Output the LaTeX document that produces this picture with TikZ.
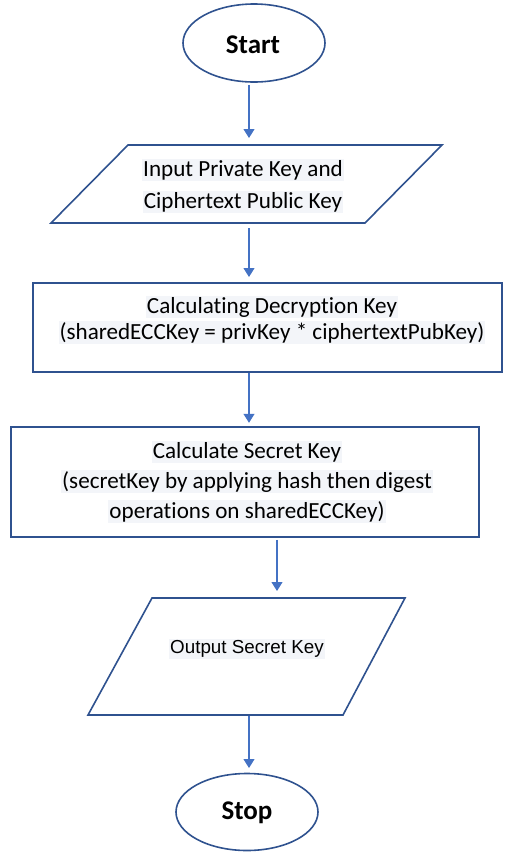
\documentclass[tikz,border=0pt]{standalone}
\usepackage{fontspec}
\setmainfont[Ligatures=NoCommon]{Carlito}
\newfontfamily\arialf{Liberation Sans}
\usetikzlibrary{arrows.meta,shapes.geometric}
\definecolor{outl}{HTML}{2F528F}
\definecolor{arr}{HTML}{4472C4}
\definecolor{hl}{HTML}{F3F5F9}
\newcommand{\hlb}[1]{{\setlength{\fboxsep}{1pt}\colorbox{hl}{#1}}}
\begin{document}
\begin{tikzpicture}[x=1pt,y=-1pt,
  shp/.style={draw=outl,line width=1.6pt,fill=white},
  term/.style={shp,ellipse,inner sep=0pt},
  box/.style={shp,rectangle,inner sep=0pt},
  txt/.style={align=center,inner sep=0pt},
  ttxt/.style={inner sep=0pt,font=\fontsize{27}{32}\selectfont\bfseries},
  flow/.style={draw=arr,line width=1.1pt,-{Triangle[width=11pt,length=9pt]}}]
\useasboundingbox (0,0) rectangle (504,852);
% Start
\node[term,minimum width=142pt,minimum height=78pt] (start) at (254,43) {};
\node[ttxt] (startt) at (253,45) {Start};
% Input
\draw[shp] (128,145) -- (442,145) -- (365,223) -- (51,223) -- cycle;
\coordinate (intop) at (249,138);
\coordinate (inbot) at (249,228);
\node[txt,font=\fontsize{23.1}{32}\selectfont] (inp) at (243,186) {\hlb{Input Private Key and}\\\hlb{Ciphertext Public Key}};
% Decryption key box
\node[box,minimum width=469pt,minimum height=89pt] (dec) at (267.5,327.5) {};
\node[txt,font=\fontsize{23.1}{26}\selectfont] (dect) at (272,320) {\hlb{Calculating Decryption Key}\\\hlb{(sharedECCKey = privKey * ciphertextPubKey)}};
% Secret key box
\node[box,minimum width=468pt,minimum height=110pt] (sec) at (245,482) {};
\node[txt,font=\fontsize{23.1}{30}\selectfont] (sect) at (247,482) {\hlb{Calculate Secret Key}\\\hlb{(secretKey by applying hash then digest}\\\hlb{operations on sharedECCKey)}};
% Output
\draw[shp] (152,598) -- (405,598) -- (343,715) -- (88,715) -- cycle;
\coordinate (outtop) at (277,591);
\coordinate (outbot) at (249,716);
\node[inner sep=0pt,font=\arialf\fontsize{18.8}{22}\selectfont] (outt) at (247,649) {\hlb{Output Secret Key}};
% Stop
\node[term,minimum width=142pt,minimum height=77pt] (stop) at (247,812) {};
\node[ttxt] (stopt) at (247,813) {Stop};
% connectors
\draw[flow] (start.south) ++(-5,2) -- (intop);
\draw[flow] (inbot) -- (249,277);
\draw[flow] (dec.south) ++(-18.5,0) -- ++(0,50);
\draw[flow] (sec.south) ++(32,2) -- (outtop);
\draw[flow] (outbot) -- (249,768);
\end{tikzpicture}
\end{document}
